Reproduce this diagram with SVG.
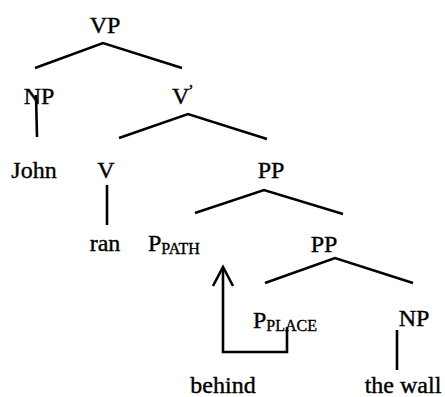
<svg xmlns="http://www.w3.org/2000/svg" width="445" height="397" viewBox="0 0 445 397">
  <style>
    text { font-family: 'Liberation Serif', 'DejaVu Serif', serif; font-size: 24px; fill: #000; stroke: #000; stroke-width: 0.4; }
    .sub { font-size: 16px; }
    .edge { stroke: #000; stroke-width: 2.6; fill: none; stroke-linecap: butt; }
  </style>
  <rect width="445" height="397" fill="#fff"/>

  <!-- tree branches -->
  <g id="connectors">
    <polyline class="edge" points="35,68 103,43 182,68"/>
    <line class="edge" x1="36" y1="95" x2="37" y2="137"/>
    <polyline class="edge" points="119,138 188,114 267,139"/>
    <line class="edge" x1="107" y1="185" x2="107" y2="225"/>
    <polyline class="edge" points="195,213 264,190 343,214"/>
    <polyline class="edge" points="265,283 335,258 413,283"/>
    <line class="edge" x1="397" y1="330" x2="397" y2="370"/>
    <!-- movement arrow from P-PLACE up to P-PATH -->
    <polyline class="edge" points="287,327 287,352 223,352 223,268"/>
    <polyline class="edge" points="213,286 223,267 233,286"/>
  </g>

  <g id="vp"><text x="105" y="33" text-anchor="middle">VP</text></g>
  <g id="np1"><text x="39" y="104" text-anchor="middle">NP</text></g>
  <g id="vbar"><text x="172" y="104">V<tspan dx="-1" dy="-8" style="font-size:16px">’</tspan></text></g>
  <g id="john"><text x="34" y="178" text-anchor="middle">John</text></g>
  <g id="v"><text x="106" y="178" text-anchor="middle">V</text></g>
  <g id="pp1"><text x="271" y="178" text-anchor="middle">PP</text></g>
  <g id="ran"><text x="105" y="251" text-anchor="middle">ran</text></g>
  <g id="ppath"><text x="148" y="251">P<tspan class="sub" dy="3">PATH</tspan></text></g>
  <g id="pp2"><text x="324" y="252" text-anchor="middle">PP</text></g>
  <g id="pplace"><text x="253" y="328">P<tspan class="sub" dy="3">PLACE</tspan></text></g>
  <g id="np2"><text x="414" y="326" text-anchor="middle">NP</text></g>
  <g id="behind"><text x="223" y="393" text-anchor="middle">behind</text></g>
  <g id="thewall"><text x="403" y="393" text-anchor="middle">the wall</text></g>
</svg>
